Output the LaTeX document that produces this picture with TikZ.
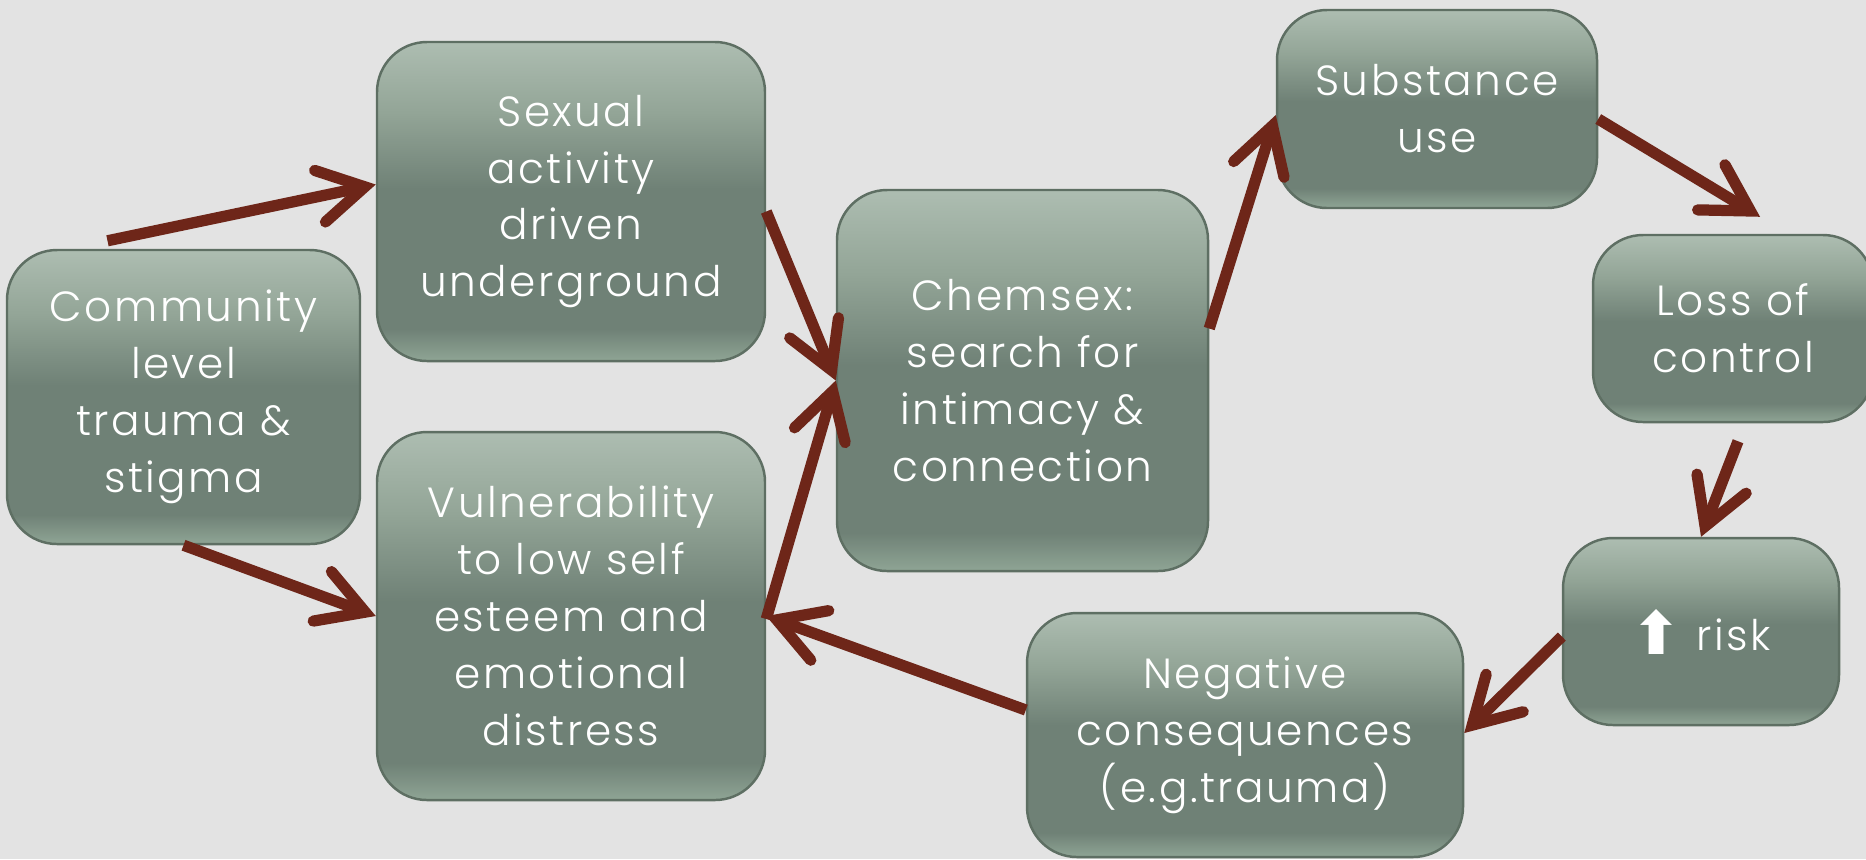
\documentclass[tikz,border=0pt]{standalone}
\usepackage{fontspec}
\setmainfont{Poppins}[UprightFont=* Light, LetterSpace=6]
\newfontfamily\symfont{DejaVu Sans}
\usetikzlibrary{arrows.meta,calc}
\definecolor{bgcol}{HTML}{E3E3E3}
\definecolor{boxtop}{HTML}{ADBDB1}
\definecolor{boxhi}{HTML}{93A597}
\definecolor{boxmid}{HTML}{6F8176}
\definecolor{boxbot}{HTML}{8FA595}
\definecolor{boxline}{HTML}{5E6F63}
\definecolor{arrcol}{HTML}{6E2619}
\pgfdeclareverticalshading{boxshade}{100bp}{color(0bp)=(boxbot); color(25bp)=(boxbot);
	color(30bp)=(boxmid); color(52bp)=(boxmid); color(64bp)=(boxhi);
	color(75bp)=(boxtop); color(100bp)=(boxtop)}

\begin{document}
\begin{tikzpicture}[
	box/.style={draw=boxline, line width=0.7pt, rounded corners=0.5cm,
		shading=boxshade, text=white, align=center, inner sep=0pt,
		font=\fontsize{12}{16.2}\selectfont},
	flow/.style={draw=arrcol, line width=3.2pt,
		-{Straight Barb[length=13pt, width=15pt, line cap=round, line join=miter]}}]
\clip (0,0) rectangle (18.66,-8.59);
\fill[bgcol] (0,0) rectangle (18.66,-8.59);
%left column
\node[box, minimum width=3.53cm, minimum height=2.94cm] (comm) at (1.835,-3.97)
	{Community\\level\\trauma \&\\stigma};
\node[box, minimum width=3.88cm, minimum height=3.19cm] (sexual) at (5.71,-2.015)
	{Sexual\\activity\\driven\\underground};
\node[box, minimum width=3.88cm, minimum height=3.68cm] (vuln) at (5.71,-6.16)
	{Vulnerability\\to low self\\esteem and\\emotional\\distress};
%centre
\node[box, minimum width=3.71cm, minimum height=3.81cm] (chem) at (10.225,-3.805)
	{Chemsex:\\search for\\intimacy \&\\connection};
%cycle on the right
\node[box, minimum width=3.20cm, minimum height=1.98cm] (subst) at (14.37,-1.09)
	{Substance\\use};
\node[box, minimum width=2.80cm, minimum height=1.87cm] (loss) at (17.33,-3.285)
	{Loss of\\control};
\node[box, minimum width=2.76cm, minimum height=1.87cm] (risk) at (17.01,-6.315)
	{{\symfont\bfseries\fontsize{17}{17}\selectfont\raisebox{-0.06em}{⬆}}\hspace{0.35em}risk};
\node[box, minimum width=4.36cm, minimum height=2.44cm] (negc) at (12.45,-7.35)
	{Negative\\consequences\\(e.g.trauma)};
%arrows
\draw[flow] ([shift={(-0.76,0.08)}]comm.north) -- ([yshift=0.17cm]sexual.west);
\draw[flow] (comm.south) -- (vuln.west);
\draw[flow] ([yshift=-0.1cm]sexual.east) -- (chem.west);
\draw[flow] ([yshift=-0.03cm]vuln.east) -- (chem.west);
\draw[flow] ([yshift=0.52cm]chem.east) -- ([yshift=-0.06cm]subst.west);
\draw[flow] ([yshift=-0.1cm]subst.east) -- ([shift={(0.27,0.17)}]loss.north);
\draw[flow] ([shift={(0.05,-0.18)}]loss.south) -- (risk.north);
\draw[flow] ([yshift=-0.05cm]risk.west) -- ([yshift=0.02cm]negc.east);
\draw[flow] ([yshift=0.25cm]negc.west) -- (vuln.east);
\end{tikzpicture}
\end{document}
